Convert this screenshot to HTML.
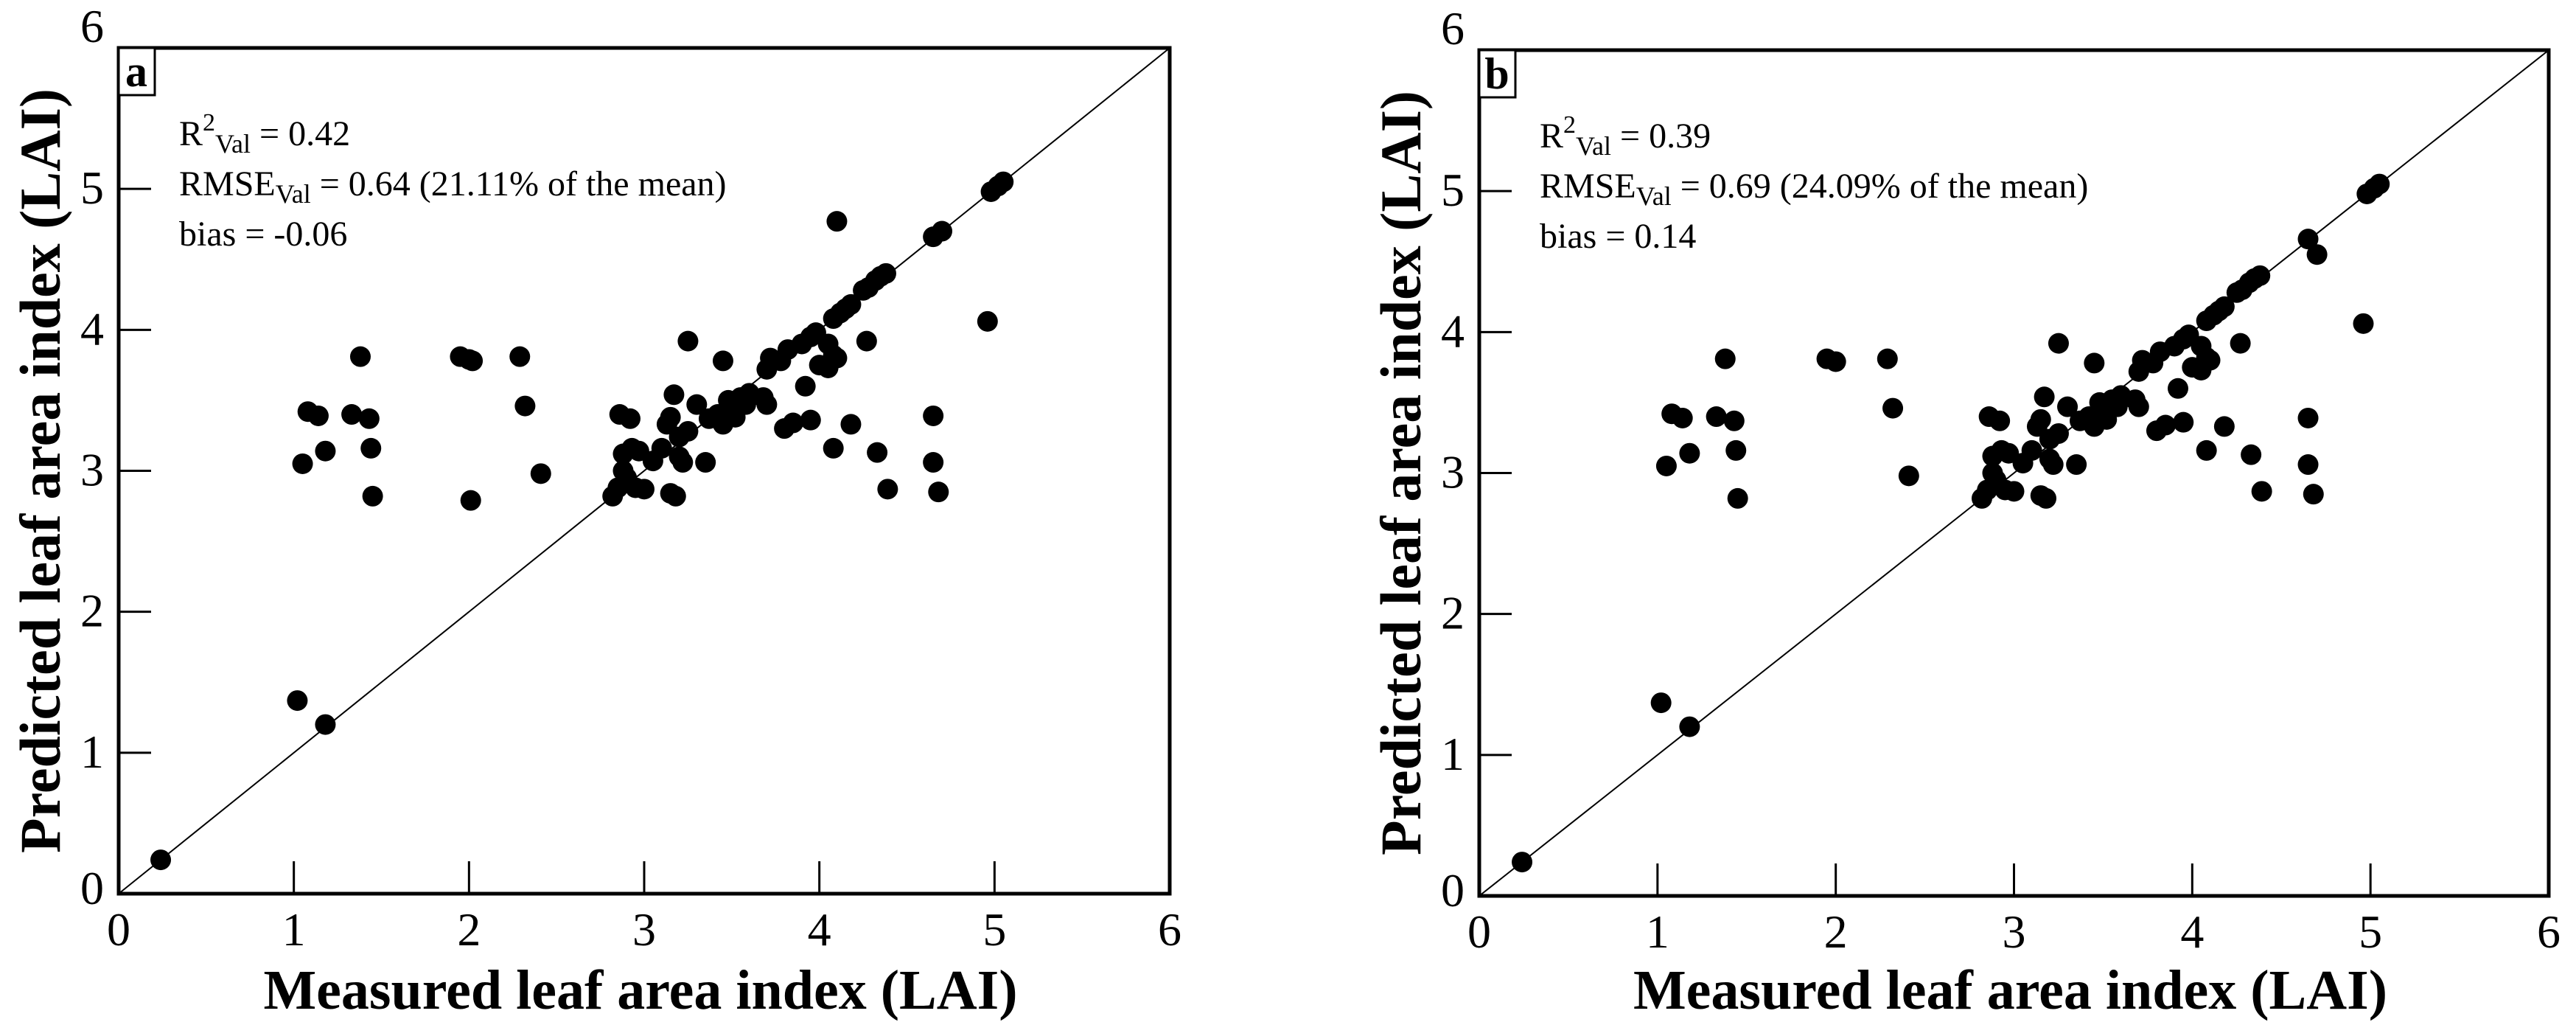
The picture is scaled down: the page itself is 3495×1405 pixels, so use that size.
<!DOCTYPE html>
<html><head><meta charset="utf-8"><style>
html,body{margin:0;padding:0;background:#fff;}
svg{display:block;font-family:"Liberation Serif",serif;}
</style></head><body>
<svg id="chart" width="3495" height="1405" viewBox="0 0 3495 1405" xmlns="http://www.w3.org/2000/svg"></svg>
<script>
const ticks = [0,1,2,3,4,5,6];
const tickLabels = ["0","1","2","3","4","5","6"];
const measuredA = [0.24,1.02,1.18,1.05,1.08,1.14,1.18,1.33,1.38,1.43,1.44,1.45,1.95,2.00,2.02,2.01,2.29,2.32,2.41,2.82,2.85,2.88,2.88,2.86,2.92,2.93,2.90,2.95,3.00,2.97,3.05,3.10,3.13,3.15,3.15,3.18,3.17,3.20,3.20,3.22,3.25,3.25,3.30,3.35,3.37,3.42,3.45,3.45,3.48,3.50,3.52,3.55,3.58,3.60,3.68,3.70,3.72,3.70,3.78,3.82,3.80,3.85,3.90,3.92,3.95,3.95,3.98,4.00,4.05,4.05,4.08,4.10,4.08,4.12,4.15,4.18,4.08,4.10,4.18,4.25,4.28,4.27,4.32,4.35,4.38,4.33,4.39,4.65,4.65,4.68,4.65,4.70,4.96,4.98,5.02,5.05];
const predictedA = [0.24,1.37,1.20,3.05,3.42,3.39,3.14,3.40,3.81,3.37,3.16,2.82,3.81,3.79,3.78,2.79,3.81,3.46,2.98,2.82,2.88,3.00,3.12,3.40,3.37,3.16,2.95,2.88,2.87,3.14,3.07,3.16,3.33,3.38,2.84,2.82,3.54,3.10,3.24,3.06,3.28,3.92,3.47,3.06,3.37,3.40,3.78,3.33,3.50,3.45,3.38,3.52,3.47,3.55,3.52,3.47,3.80,3.72,3.78,3.86,3.30,3.34,3.90,3.60,3.95,3.36,3.98,3.75,3.73,3.90,3.82,3.80,4.08,4.12,4.15,4.18,3.16,4.77,3.33,4.28,4.30,3.92,4.35,4.38,4.40,3.13,2.87,3.39,3.06,2.85,4.66,4.70,4.06,4.98,5.02,5.05];
const measuredB = [0.24,1.02,1.18,1.05,1.08,1.14,1.18,1.33,1.38,1.43,1.44,1.45,1.95,2.00,2.29,2.32,2.41,2.82,2.85,2.88,2.88,2.86,2.92,2.93,2.90,2.95,3.00,2.97,3.05,3.10,3.13,3.15,3.15,3.18,3.17,3.20,3.20,3.22,3.25,3.25,3.30,3.35,3.37,3.42,3.45,3.45,3.48,3.50,3.52,3.55,3.58,3.60,3.68,3.70,3.72,3.70,3.78,3.82,3.80,3.85,3.90,3.92,3.95,3.95,3.98,4.00,4.05,4.05,4.08,4.10,4.08,4.12,4.15,4.18,4.08,4.18,4.25,4.28,4.27,4.32,4.35,4.38,4.33,4.39,4.65,4.65,4.68,4.65,4.70,4.96,4.98,5.02,5.05];
const predictedB = [0.24,1.37,1.20,3.05,3.42,3.39,3.14,3.40,3.81,3.37,3.16,2.82,3.81,3.79,3.81,3.46,2.98,2.82,2.88,3.00,3.12,3.40,3.37,3.16,2.95,2.88,2.87,3.14,3.07,3.16,3.33,3.38,2.84,2.82,3.54,3.10,3.24,3.06,3.28,3.92,3.47,3.06,3.37,3.40,3.78,3.33,3.50,3.45,3.38,3.52,3.47,3.55,3.52,3.47,3.80,3.72,3.78,3.86,3.30,3.34,3.90,3.60,3.95,3.36,3.98,3.75,3.73,3.90,3.82,3.80,4.08,4.12,4.15,4.18,3.16,3.33,4.28,4.30,3.92,4.35,4.38,4.40,3.13,2.87,3.39,3.06,2.85,4.66,4.55,4.06,4.98,5.02,5.05];

const NS="http://www.w3.org/2000/svg";
const svg=document.getElementById('chart');
function mk(tag,attrs,parent){const e=document.createElementNS(NS,tag);for(const k in attrs)e.setAttribute(k,attrs[k]);(parent||svg).appendChild(e);return e;}

function panel(p){
  const g=mk('g',{});
  
  
  const sx=v=>p.L+(v/6)*(p.R-p.L);
  const sy=v=>p.B-(v/6)*(p.B-p.T);
  // 1:1 line
  const l=mk('line',{x1:sx(0),y1:sy(0),x2:sx(6),y2:sy(6),stroke:'#000','stroke-width':2},g);
  
  
  // points
  for(let i=0;i<p.xs.length;i++){
    const c=mk('circle',{cx:sx(p.xs[i]),cy:sy(p.ys[i]),r:14,fill:'#000'},g);
    
    
  }
  // frame
  const f=mk('rect',{x:p.L,y:p.T,width:p.R-p.L,height:p.B-p.T,fill:'none',stroke:'#000','stroke-width':5},g);
  
  
  // ticks
  for(let i=0;i<ticks.length;i++){
    const v=ticks[i];
    if(v>0&&v<6){
      const tx=mk('line',{x1:sx(v),y1:p.B,x2:sx(v),y2:p.B-44,stroke:'#000','stroke-width':3},g);
      
      
      const ty=mk('line',{x1:p.L,y1:sy(v),x2:p.L+44,y2:sy(v),stroke:'#000','stroke-width':3},g);
      
      
    }
    const xl=mk('text',{x:sx(v),y:p.B+70,'font-size':64,'text-anchor':'middle'},g);
    xl.textContent=tickLabels[i];
    
    
    const yl=mk('text',{x:p.L-20,y:sy(v)+(v===0?14:(v===6?-8:20)),'font-size':64,'text-anchor':'end'},g);
    yl.textContent=tickLabels[i];
    
    
  }
  // panel letter box
  const bx=mk('rect',{x:p.L,y:p.T,width:49,height:64,fill:'#fff',stroke:'#000','stroke-width':3},g);
  
  
  const lt=mk('text',{x:p.L+24,y:p.T+52,'font-size':60,'font-weight':'bold','text-anchor':'middle'},g);
  lt.textContent=p.id;
  
  
  // annotations
  const ax=p.L+82;
  const t1=mk('text',{x:ax,y:p.T+132,'font-size':48},g);
  t1.innerHTML='R<tspan dy="-20" font-size="34">2</tspan><tspan dy="30" font-size="36">Val</tspan><tspan dy="-10"> = '+p.r2+'</tspan>';
  
  
  const t2=mk('text',{x:ax,y:p.T+200,'font-size':48},g);
  t2.innerHTML='RMSE<tspan dy="10" font-size="36">Val</tspan><tspan dy="-10"> = '+p.rmse+'</tspan>';
  
  
  const t3=mk('text',{x:ax,y:p.T+268,'font-size':48},g);
  t3.textContent='bias = '+p.bias;
  
  
  // axis titles
  const xt=mk('text',{x:(p.L+p.R)/2-5,y:1368,'font-size':76,'font-weight':'bold','text-anchor':'middle'},g);
  xt.textContent='Measured leaf area index (LAI)';
  
  
  const yt=mk('text',{x:0,y:0,'font-size':78,'font-weight':'bold','text-anchor':'middle',transform:'translate('+(p.L-80)+','+((p.T+p.B)/2)+') rotate(-90)'},g);
  yt.textContent='Predicted leaf area index (LAI)';
  
  
}
panel({id:'a',L:161,T:65,R:1587,B:1212,xs:measuredA,ys:predictedA,r2:'0.42',rmse:'0.64 (21.11% of the mean)',bias:'-0.06'});
panel({id:'b',L:2007,T:68,R:3458,B:1215,xs:measuredB,ys:predictedB,r2:'0.39',rmse:'0.69 (24.09% of the mean)',bias:'0.14'});
</script>
</body></html>
